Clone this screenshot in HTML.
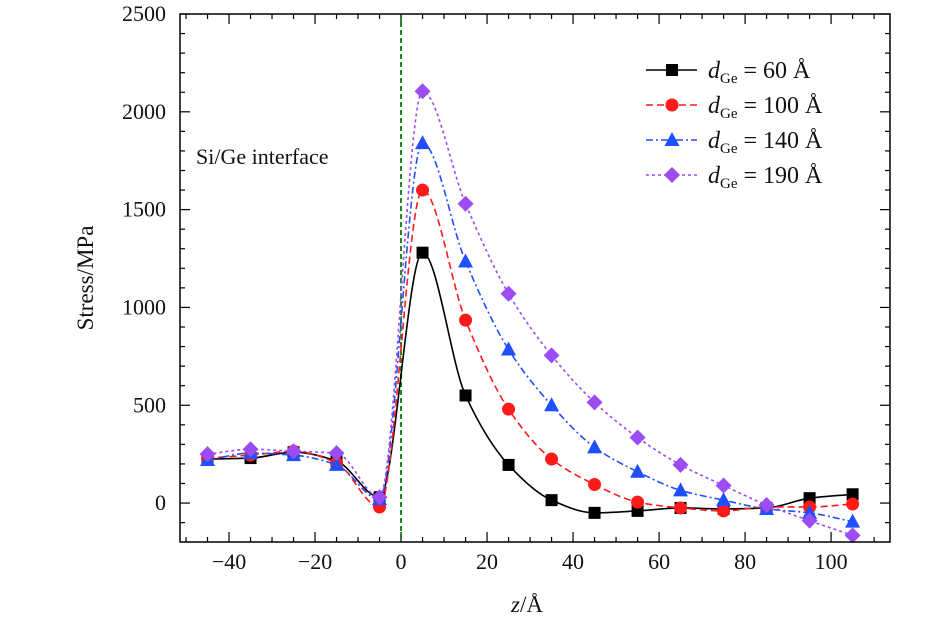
<!DOCTYPE html>
<html><head><meta charset="utf-8"><style>
body{margin:0;background:#fff;}
svg text{font-family:"Liberation Serif",serif;fill:#111;}
</style></head><body>
<svg id="chart" width="945" height="619" xmlns="http://www.w3.org/2000/svg"></svg>
<script>
const zValues=[-45,-35,-25,-15,-5,5,15,25,35,45,55,65,75,85,95,105];
const s60=[225,230,260,215,30,1280,550,195,15,-50,-40,-25,-30,-25,25,45];
const s100=[230,245,265,205,-20,1600,935,480,225,95,5,-25,-40,-20,-20,-5];
const s140=[220,255,245,195,20,1840,1235,785,500,285,160,65,15,-30,-50,-95];
const s190=[250,275,265,255,30,2105,1530,1070,755,515,335,195,90,-10,-90,-165];
const xTicks=[-40,-20,0,20,40,60,80,100];
const yTicks=[0,500,1000,1500,2000,2500];
const seriesLabels=["60","100","140","190"];

const svg=document.getElementById('chart');
const NS="http://www.w3.org/2000/svg";
const L=180,R=890,T=14,B=542;
const xMin=-51.4,xMax=113.7,yMin=-199,yMax=2500;
const X=v=>L+(v-xMin)/(xMax-xMin)*(R-L);
const Y=v=>B-(v-yMin)/(yMax-yMin)*(B-T);
function el(tag,attrs,parent){const e=document.createElementNS(NS,tag);for(const k in attrs)e.setAttribute(k,attrs[k]);(parent||svg).appendChild(e);return e;}

xTicks.forEach(t=>{
  const g=el('g',{});
  
  
  el('line',{x1:X(t),x2:X(t),y1:B,y2:B-10,stroke:'#000','stroke-width':1.2},g);
  el('line',{x1:X(t),x2:X(t),y1:T,y2:T+10,stroke:'#000','stroke-width':1.2},g);
  const tx=el('text',{x:X(t),y:B+27,'text-anchor':'middle','font-size':22},g);
  tx.textContent=t<0?'\u2212'+Math.abs(t):t;
});
for(let t=-50;t<=110;t+=5){if(t%20!==0){el('line',{x1:X(t),x2:X(t),y1:B,y2:B-5,stroke:'#000','stroke-width':1.2});el('line',{x1:X(t),x2:X(t),y1:T,y2:T+5,stroke:'#000','stroke-width':1.2});}}
yTicks.forEach(t=>{
  const g=el('g',{});
  
  
  el('line',{x1:L,x2:L+10,y1:Y(t),y2:Y(t),stroke:'#000','stroke-width':1.2},g);
  el('line',{x1:R,x2:R-10,y1:Y(t),y2:Y(t),stroke:'#000','stroke-width':1.2},g);
  const tx=el('text',{x:L-14,y:Y(t)+7,'text-anchor':'end','font-size':22},g);
  tx.textContent=t;
});
for(let t=-100;t<=2500;t+=100){if(t%500!==0){el('line',{x1:L,x2:L+5,y1:Y(t),y2:Y(t),stroke:'#000','stroke-width':1.2});el('line',{x1:R,x2:R-5,y1:Y(t),y2:Y(t),stroke:'#000','stroke-width':1.2});}}

const il=el('line',{x1:X(0),x2:X(0),y1:T,y2:B,stroke:'#1a8a1a','stroke-width':2,'stroke-dasharray':'5,3'});


const it=el('text',{x:196,y:164,'font-size':22});
it.textContent='Si/Ge interface';



// monotone cubic (PCHIP) path
function smooth(pts){
  const n=pts.length,h=[],d=[],m=[];
  for(let i=0;i<n-1;i++){h[i]=pts[i+1][0]-pts[i][0];d[i]=(pts[i+1][1]-pts[i][1])/h[i];}
  m[0]=d[0];m[n-1]=d[n-2];
  for(let i=1;i<n-1;i++){
    if(d[i-1]*d[i]<=0)m[i]=0;
    else{const w1=2*h[i]+h[i-1],w2=h[i]+2*h[i-1];m[i]=(w1+w2)/(w1/d[i-1]+w2/d[i]);}
  }
  let p='M'+pts[0][0]+','+pts[0][1];
  for(let i=0;i<n-1;i++){
    const a=pts[i],b=pts[i+1],k=h[i]/3;
    p+=` C${a[0]+k},${a[1]+m[i]*k} ${b[0]-k},${b[1]-m[i+1]*k} ${b[0]},${b[1]}`;
  }
  return p;
}
function marker(shape,x,y,color,parent){
  if(shape==='s')return el('rect',{x:x-6,y:y-6,width:12,height:12,fill:color},parent);
  if(shape==='o')return el('circle',{cx:x,cy:y,r:6.5,fill:color},parent);
  if(shape==='^')return el('polygon',{points:`${x},${y-8} ${x+7.5},${y+6} ${x-7.5},${y+6}`,fill:color},parent);
  return el('polygon',{points:`${x},${y-8} ${x+8},${y} ${x},${y+8} ${x-8},${y}`,fill:color},parent);
}
const series=[
  {vals:s60,color:'#000',dash:'',shape:'s'},
  {vals:s100,color:'#ff1a1a',dash:'7,4',shape:'o'},
  {vals:s140,color:'#1f4fff',dash:'7,3,2,3',shape:'^'},
  {vals:s190,color:'#9b4cf2',dash:'3,3',shape:'d'}
];
series.forEach((s,si)=>{
  const g=el('g',{});
  
  
  const pts=zValues.map((z,i)=>[X(z),Y(s.vals[i])]);
  el('path',{d:smooth(pts),fill:'none',stroke:s.color,'stroke-width':1.6,'stroke-dasharray':s.dash},g);
  pts.forEach(p=>{const m=marker(s.shape,p[0],p[1],s.color,g);});
  const lg=el('g',{});
  
  
  const ly=70+si*35;
  el('line',{x1:646,x2:697,y1:ly,y2:ly,stroke:s.color,'stroke-width':1.6,'stroke-dasharray':s.dash},lg);
  marker(s.shape,672,ly,s.color,lg);
  const t=el('text',{x:708,y:ly+8,'font-size':24},lg);
  t.innerHTML=`<tspan font-style="italic">d</tspan><tspan font-size="15" dy="5">Ge</tspan><tspan dy="-5"> = ${seriesLabels[si]} Å</tspan>`;
});

const frame=el('rect',{x:L,y:T,width:R-L,height:B-T,fill:'none',stroke:'#000','stroke-width':1.5});


const xl=el('text',{x:527,y:612,'text-anchor':'middle','font-size':23});
xl.innerHTML='<tspan font-style="italic">z</tspan>/Å';


const yl=el('text',{x:0,y:0,'text-anchor':'middle','font-size':23,transform:'translate(93,278) rotate(-90)'});
yl.textContent='Stress/MPa';


</script>
</body></html>
